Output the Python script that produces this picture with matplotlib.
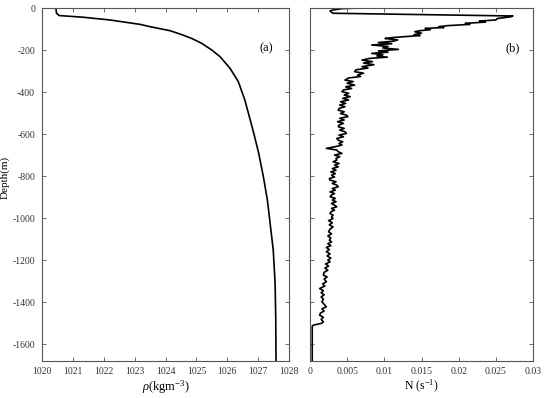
import numpy as np
import matplotlib.pyplot as plt

plt.rcParams['font.family'] = ['Liberation Serif', 'DejaVu Serif']
plt.rcParams['axes.unicode_minus'] = False
plt.rcParams['mathtext.fontset'] = 'custom'
plt.rcParams['mathtext.rm'] = 'Liberation Serif'
plt.rcParams['mathtext.it'] = 'Liberation Serif:italic'

# ---- density profile (a) ----
rho_depth = [0, -25, -36, -44, -57, -78, -89, -108, -128, -145, -168, -200,
             -232, -287, -351, -438, -525, -597, -692, -803, -914, -1152,
             -1311, -1470, -1680]
rho_vals = [1020.45, 1020.47, 1020.56, 1021.34, 1022.2, 1023.18, 1023.5,
            1024.15, 1024.55, 1024.85, 1025.17, 1025.5, 1025.77, 1026.09,
            1026.36, 1026.57, 1026.73, 1026.86, 1027.02, 1027.17, 1027.3,
            1027.49, 1027.55, 1027.57, 1027.58]

# ---- buoyancy frequency profile (b) ----
n_depth = [
    0, -3, -10, -14, -20, -25, -38, -42, -50, -57, -62, -67, -73, -78, -84,
    -89, -93, -97, -103, -108, -113, -120, -127, -131, -136, -141, -145, -152,
    -158, -164, -170, -176, -183, -190, -197, -204, -210, -216, -222, -228,
    -234, -240, -248, -255, -262, -270, -279, -286, -294, -303, -310, -319,
    -326, -333, -343, -350, -358, -367, -375, -383, -390, -398, -406, -414,
    -422, -430, -438, -446, -454, -462, -470, -478, -486, -494, -502, -510,
    -517, -525, -533, -541, -549, -557, -565, -573, -581, -589, -597, -605,
    -613, -621, -629, -637, -645, -652, -660, -668, -676, -684, -692, -700,
    -708, -716, -724, -732, -740, -748, -756, -764, -772, -780, -788, -796,
    -804, -812, -819, -827, -835, -843, -851, -859, -867, -875, -883, -890,
    -898, -906, -914, -922, -930, -938, -946, -954, -962, -970, -978, -986,
    -994, -1002, -1012, -1022, -1032, -1042, -1052, -1065, -1075, -1085,
    -1095, -1105, -1113, -1122, -1131, -1140, -1150, -1160, -1170, -1180,
    -1190, -1200, -1208, -1218, -1228, -1238, -1248, -1258, -1271, -1280,
    -1290, -1303, -1313, -1323, -1335, -1345, -1355, -1365, -1375, -1385,
    -1398, -1410, -1422, -1432, -1442, -1452, -1462, -1472, -1482, -1494,
    -1500, -1510, -1515, -1680,
]
n_vals = [
    0.0065, 0.0043, 0.0030, 0.0027, 0.0029, 0.0031, 0.0273, 0.0270, 0.0252,
    0.0250, 0.0228, 0.0236, 0.0209, 0.0215, 0.0185, 0.0173, 0.0180, 0.0155,
    0.0162, 0.0148, 0.0141, 0.0150, 0.0140, 0.0148, 0.0128, 0.0110, 0.0101,
    0.0118, 0.0112, 0.0092, 0.0110, 0.0083, 0.0105, 0.0098, 0.0119, 0.0092,
    0.0105, 0.0083, 0.0098, 0.0090, 0.0104, 0.0080, 0.0070, 0.0084, 0.0072,
    0.0086, 0.0070, 0.0078, 0.0062, 0.0060, 0.0072, 0.0064, 0.0068, 0.0052,
    0.0047, 0.0058, 0.0050, 0.0060, 0.0048, 0.0056, 0.0045, 0.0043, 0.0052,
    0.0046, 0.0054, 0.0044, 0.0052, 0.0041, 0.0048, 0.0040, 0.0047, 0.0039,
    0.0038, 0.0046, 0.0041, 0.0049, 0.0051, 0.0040, 0.0046, 0.0037, 0.0045,
    0.0039, 0.0038, 0.0046, 0.0040, 0.0047, 0.0049, 0.0039, 0.0045, 0.0036,
    0.0038, 0.0044, 0.0039, 0.0043, 0.0034, 0.0022, 0.0036, 0.0038, 0.0043,
    0.0033, 0.0040, 0.0035, 0.0036, 0.0031, 0.0039, 0.0033, 0.0038, 0.0030,
    0.0035, 0.0028, 0.0034, 0.0029, 0.0033, 0.0026, 0.0027, 0.0035, 0.0030,
    0.0036, 0.0038, 0.0030, 0.0034, 0.0027, 0.0033, 0.0029, 0.0027, 0.0034,
    0.0030, 0.0035, 0.0029, 0.0033, 0.0036, 0.0029, 0.0033, 0.0028, 0.0027,
    0.0031, 0.0029, 0.0031, 0.0025, 0.0030, 0.0026, 0.0031, 0.0027, 0.0025,
    0.0029, 0.0024, 0.0028, 0.0026, 0.0029, 0.0024, 0.0028, 0.0022, 0.0026,
    0.0022, 0.0027, 0.0023, 0.0028, 0.0024, 0.0027, 0.0021, 0.0025, 0.0020,
    0.0024, 0.0019, 0.0018, 0.0023, 0.0019, 0.0022, 0.0017, 0.0020, 0.0013,
    0.0018, 0.0015, 0.0019, 0.0015, 0.0018, 0.0016, 0.0019, 0.0022, 0.0016,
    0.0019, 0.0014, 0.0013, 0.0018, 0.0015, 0.0018, 0.0016, 0.0004, 0.0003,
    0.0003,
]

depth_ticks = list(range(0, -1700, -200))
rho_ticks = list(range(1020, 1029))
n_ticks = [0, 0.005, 0.01, 0.015, 0.02, 0.025, 0.03]
n_ticklabels = ['0', '0.005', '0.01', '0.015', '0.02', '0.025', '0.03']

AXCOL = '#555555'


def style_axes(ax):
    for s in ax.spines.values():
        s.set_color(AXCOL)
        s.set_linewidth(0.8)
    ax.tick_params(direction='in', top=True, right=True, length=3,
                   width=0.6, color=AXCOL, labelsize=7, labelcolor='#333333')
    ax.tick_params(axis='x', pad=4)
    ax.tick_params(axis='y', pad=5)


fig = plt.figure(figsize=(5.5, 3.98), dpi=100)
W, H = 550, 398
bottom = (H - 361) / H
height = 353 / H
ax1 = fig.add_axes([42 / W, bottom, 247 / W, height])
ax2 = fig.add_axes([310 / W, bottom, 223 / W, height])

ax1.plot(rho_vals, rho_depth, color='black', linewidth=1.2)
ax1.set_xlim(1020, 1028)
ax1.set_ylim(-1680, 0)
ax1.set_xticks(rho_ticks)
ax1.set_yticks(depth_ticks)
style_axes(ax1)
ax1.set_ylabel('Depth(m)', fontsize=8)
ax1.yaxis.set_label_coords(-32 / 247, 0.52)
ax1.set_xlabel(r'$\it{\rho}$(kgm$^{-3}$)', fontsize=9, labelpad=2)
ax1.text(0.91, 0.885, '(a)', transform=ax1.transAxes, fontsize=9,
         ha='center', va='center')

ax2.plot(n_vals, n_depth, color='black', linewidth=1.2)
ax2.set_xlim(0, 0.03)
ax2.set_ylim(-1680, 0)
ax2.set_xticks(n_ticks)
ax2.set_xticklabels(n_ticklabels)
ax2.set_yticks(depth_ticks)
ax2.set_yticklabels([])
style_axes(ax2)
ax2.set_xlabel(r'N (s$^{-1}$)', fontsize=8.5, labelpad=2)
ax2.text(0.907, 0.885, '(b)', transform=ax2.transAxes, fontsize=9,
         ha='center', va='center')

fig.savefig('out.png', dpi=100, facecolor='white')
